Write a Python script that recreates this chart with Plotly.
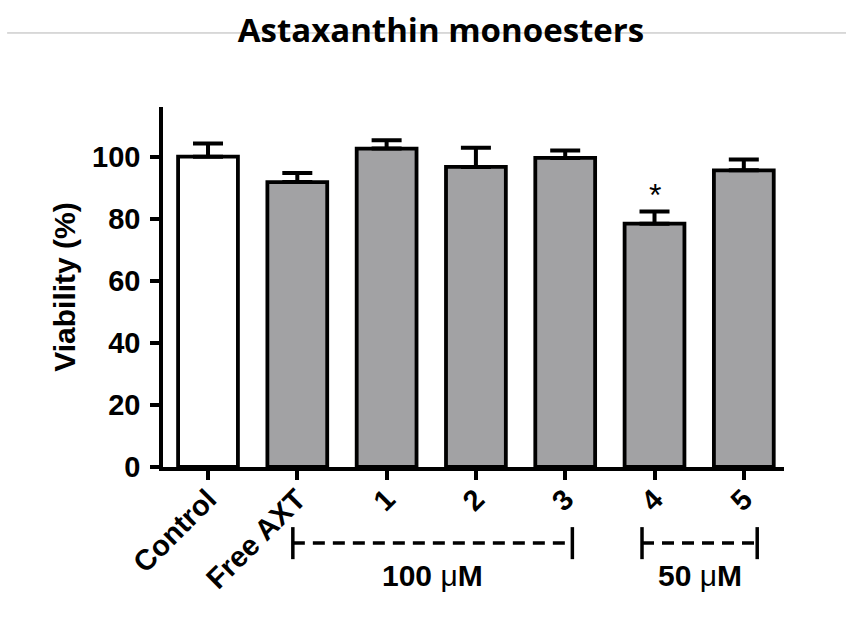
import plotly.graph_objects as go

# Cell viability after treatment (mean + SEM)
categories = ["Control", "Free AXT", "1", "2", "3", "4", "5"]
viability = [100.0, 91.8, 102.6, 96.7, 99.6, 78.4, 95.6]
sem = [4.2, 2.9, 2.7, 6.2, 2.4, 3.9, 3.5]
fill_colors = ["white"] + ["#a2a2a4"] * 6
y_ticks = [0, 20, 40, 60, 80, 100]
significance = {"4": "*"}
# dose groups: label, first / last category position spanned by the bracket
dose_groups = [("100 μM", 0.95, 4.08), ("50 μM", 4.86, 6.15)]

FONT = "Arial, 'Liberation Sans', sans-serif"

fig = go.Figure()
fig.add_trace(go.Bar(
    x=categories,
    y=viability,
    width=0.67,
    marker=dict(color=fill_colors, line=dict(color="black", width=3.8)),
    error_y=dict(type="data", array=sem, arrayminus=[0] * len(sem),
                 symmetric=False, color="black", thickness=4, width=15),
    showlegend=False,
    hoverinfo="x+y",
))

annotations = []
for cat, mark in significance.items():
    i = categories.index(cat)
    annotations.append(dict(
        x=i, y=viability[i] + sem[i] + 5.5, xref="x", yref="y",
        text=mark, showarrow=False, yanchor="middle",
        font=dict(family=FONT, size=32, color="black"),
    ))

shapes = []
line_y, cap_lo, cap_hi, label_y = -0.211, -0.256, -0.167, -0.30
for label, x0, x1 in dose_groups:
    shapes.append(dict(type="line", xref="x", yref="paper", x0=x0, x1=x1,
                       y0=line_y, y1=line_y,
                       line=dict(color="black", width=3.5, dash="12px,8px")))
    for xe in (x0, x1):
        shapes.append(dict(type="line", xref="x", yref="paper", x0=xe, x1=xe,
                           y0=cap_lo, y1=cap_hi,
                           line=dict(color="black", width=3.5)))
    annotations.append(dict(
        x=(x0 + x1) / 2, y=label_y, xref="x", yref="paper",
        text=label.replace("μ", "<span style='font-weight:normal'>μ</span>"),
        showarrow=False, yanchor="middle", xanchor="center",
        font=dict(family=FONT, size=30, color="black", weight="bold"),
    ))

# thin rule running behind the title
shapes.append(dict(type="line", xref="paper", yref="paper",
                   x0=-0.251, x1=1.10, y0=1.2056, y1=1.2056,
                   line=dict(color="#b4b4b4", width=1)))

fig.update_layout(
    width=846, height=625,
    margin=dict(l=163, r=62, t=107, b=158),
    paper_bgcolor="white", plot_bgcolor="white",
    title=dict(text="Astaxanthin monoesters", x=441 / 846, xanchor="center",
               y=1 - 30 / 625, yanchor="middle", yref="container",
               font=dict(family="'Open Sans', sans-serif", size=33,
                         color="black", weight="bold")),
    shapes=shapes,
    annotations=annotations,
    bargap=0.33,
)

fig.update_xaxes(
    type="category", range=[-0.504, 6.45],
    showline=True, linecolor="black", linewidth=3.5,
    ticks="outside", ticklen=9, tickwidth=3.5, tickcolor="black",
    tickangle=-45, showgrid=False, zeroline=False, ticklabelstandoff=-9,
    tickfont=dict(family=FONT, size=29, color="black", weight="bold"),
)
fig.update_yaxes(
    range=[0, 116], tickvals=y_ticks,
    showline=True, linecolor="black", linewidth=3.5,
    ticks="outside", ticklen=9, tickwidth=3.5, tickcolor="black",
    showgrid=False, zeroline=False, ticklabelstandoff=4,
    tickfont=dict(family=FONT, size=29, color="black", weight="bold"),
    title=dict(text="Viability (%)", standoff=9,
               font=dict(family=FONT, size=30, color="black", weight="bold")),
    automargin=False,
)

fig.write_html("out.html")
